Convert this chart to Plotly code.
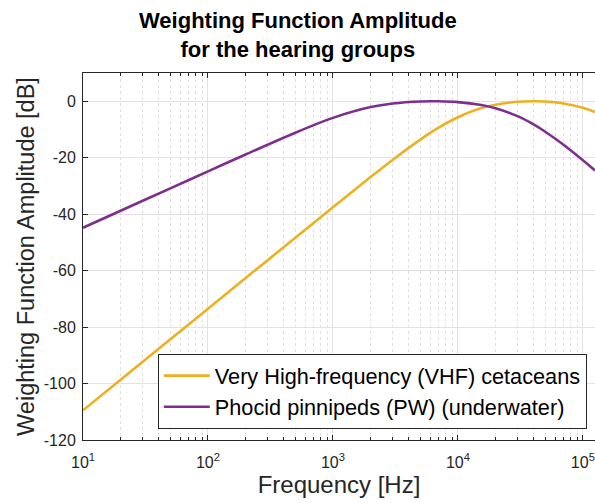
import plotly.graph_objects as go

# Frequencies [Hz] and weighting amplitudes [dB]
freq_hz = [10, 20, 50, 100, 200, 500, 1000, 2000, 3000, 5000, 7000, 10000,
           15000, 20000, 30000, 40000, 50000, 70000, 100000, 125000]
vhf_db = [-109.49, -98.65, -84.33, -73.49, -62.65, -48.34, -37.55, -26.87, -20.79,
          -13.59, -9.38, -5.66, -2.61, -1.22, -0.19, 0.0, -0.12, -0.80, -2.33, -3.80]
pw_db = [-44.83, -38.80, -30.85, -24.84, -18.85, -11.14, -5.90, -2.08, -0.80,
         -0.07, -0.02, -0.32, -1.26, -2.48, -5.29, -8.13, -10.80, -15.44, -20.92, -24.53]

series_names = ["Very High-frequency (VHF) cetaceans", "Phocid pinnipeds (PW) (underwater)"]
series_colors = ["#EDB120", "#7E2F8E"]

x_tickvals = [10, 100, 1000, 10000, 100000]
x_ticktext = ["10<sup>1</sup>", "10<sup>2</sup>", "10<sup>3</sup>", "10<sup>4</sup>", "10<sup>5</sup>"]
x_minor = [m * d for d in [10, 100, 1000, 10000, 100000] for m in range(2, 10)]
y_tickvals = [-120, -100, -80, -60, -40, -20, 0]
y_ticktext = ["-120", "-100", "-80", "-60", "-40", "-20", "0"]

FONT = "Liberation Sans, Arial, Helvetica, sans-serif"
AX = "#262626"

fig = go.Figure()
for name, ys, col in zip(series_names, [vhf_db, pw_db], series_colors):
    fig.add_trace(go.Scatter(x=freq_hz, y=ys, mode="lines", name=name,
                             line=dict(color=col, width=2.6, shape="spline", smoothing=0.8)))

fig.update_layout(
    width=595, height=503,
    margin=dict(l=83, r=0, t=73, b=63),
    paper_bgcolor="white", plot_bgcolor="white",
    font=dict(family=FONT, color=AX),
    legend=dict(x=0.984, y=0.03, xanchor="right", yanchor="bottom",
                bgcolor="white", bordercolor=AX, borderwidth=1,
                font=dict(family=FONT, size=21.7, color="black"),
                itemwidth=46, tracegroupgap=0),
    showlegend=True,
)
fig.add_annotation(
    text="<b>Weighting Function Amplitude<br>for the hearing groups</b>",
    xref="paper", yref="paper", x=(297.5 - 83) / 512, y=1 + (73 - 6) / 367,
    xanchor="center", yanchor="top", showarrow=False,
    font=dict(family=FONT, size=22, color="black"),
)
fig.update_xaxes(
    type="log", range=[1, 5.097],
    tickvals=x_tickvals, ticktext=x_ticktext,
    tickfont=dict(size=16, color=AX), ticklabelstandoff=8,
    ticks="inside", ticklen=5, tickcolor=AX,
    showline=True, linecolor=AX, linewidth=1, mirror="ticks",
    showgrid=True, gridcolor="#e3e3e3", gridwidth=1,
    minor=dict(tickvals=x_minor, ticks="inside", ticklen=3, tickcolor=AX,
               showgrid=True, gridcolor="#e0e0e0", griddash="dot", gridwidth=1),
    title=dict(text="Frequency [Hz]", font=dict(size=24, color=AX), standoff=4),
    zeroline=False,
)
fig.update_yaxes(
    range=[-120, 10],
    tickvals=y_tickvals, ticktext=y_ticktext,
    tickfont=dict(size=16, color=AX), ticklabelstandoff=3,
    ticks="inside", ticklen=5, tickcolor=AX,
    showline=True, linecolor=AX, linewidth=1, mirror=False,
    showgrid=True, gridcolor="#e3e3e3", gridwidth=1,
    title=dict(text="Weighting Function Amplitude [dB]", font=dict(size=23.5, color=AX), standoff=2),
    zeroline=False,
)

fig.write_html("out.html")
